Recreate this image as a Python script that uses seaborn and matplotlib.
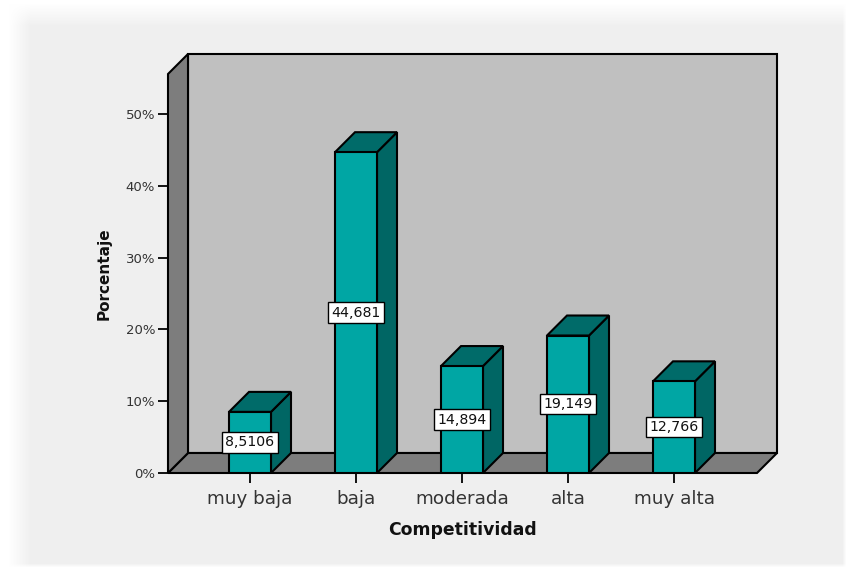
import numpy as np
import pandas as pd
import matplotlib
matplotlib.use("Agg")
import matplotlib.pyplot as plt
from matplotlib.patches import Polygon, Rectangle
import seaborn as sns

# Data: percentage of respondents per competitiveness level
categories = ["muy baja", "baja", "moderada", "alta", "muy alta"]
percentages = [8.5106, 44.681, 14.894, 19.149, 12.766]
y_ticks = [0, 10, 20, 30, 40, 50]
y_tick_labels = ["0%", "10%", "20%", "30%", "40%", "50%"]

df = pd.DataFrame({"Competitividad": categories, "Porcentaje": percentages})

W, H = 850, 575
sns.set_theme(style="white")
plt.rcParams["font.family"] = ["DejaVu Sans"]

fig = plt.figure(figsize=(W / 100, H / 100), dpi=100)
fig.patch.set_facecolor("white")

# soft-edged light grey panel behind the chart
xx, yy = np.meshgrid(np.arange(W), np.arange(H))
fx = np.clip((xx - 8) / 22.0, 0, 1) * np.clip((846 - xx) / 4.0, 0, 1)
fy = np.clip((yy - 3) / 22.0, 0, 1) * np.clip((567 - yy) / 4.0, 0, 1)
shade = 1.0 - fx * fy * (1.0 - 0.941)
panel = np.dstack([shade, shade, shade])
bg = fig.add_axes([0, 0, 1, 1], zorder=-1)
bg.imshow(panel, extent=(0, W, H, 0), aspect="auto", interpolation="nearest")
bg.set_axis_off()

# 3-D box geometry (in pixels of the figure)
px_left, px_right, px_floor, px_top = 168, 777, 473, 54
cat_px0, cat_step = 250, 106           # pixel of first category, spacing
pct_px = 7.18                          # pixels per percentage point
depth_px = 20

ax = fig.add_axes([px_left / W, (H - px_floor) / H,
                   (px_right - px_left) / W, (px_floor - px_top) / H],
                  zorder=1)
ax.set_facecolor("none")

x0 = (px_left - cat_px0) / cat_step
xr = (px_right - cat_px0) / cat_step
ytop = (px_floor - px_top) / pct_px
dx = depth_px / cat_step
dy = depth_px / pct_px

edge = dict(edgecolor="black", linewidth=1.5, joinstyle="miter")
wall_dark = "#7d7d7d"
wall_light = "#c0c0c0"

# back wall, floor and left wall
ax.add_patch(Rectangle((x0 + dx, dy), xr - x0 - dx, ytop - dy,
                       facecolor=wall_light, zorder=1, clip_on=False, **edge))
ax.add_patch(Polygon([(x0, 0), (xr - dx, 0), (xr, dy), (x0 + dx, dy)],
                     closed=True, facecolor=wall_dark, zorder=1.5,
                     clip_on=False, **edge))
ax.add_patch(Polygon([(x0, 0), (x0 + dx, dy), (x0 + dx, ytop), (x0, ytop - dy)],
                     closed=True, facecolor=wall_dark, zorder=1.6,
                     clip_on=False, **edge))
n_walls = len(ax.patches)

front = "#00a6a4"
side = "#006664"
top = "#006b69"

sns.barplot(data=df, x="Competitividad", y="Porcentaje", color=front,
            saturation=1, width=42 / cat_step, edgecolor="black",
            linewidth=1.5, ax=ax, zorder=3)
ax.set_xlim(x0, xr)
ax.set_ylim(0, ytop)

for bar, val in zip(list(ax.patches)[n_walls:], percentages):
    bx, bw, bh = bar.get_x(), bar.get_width(), bar.get_height()
    ax.add_patch(Polygon([(bx + bw, 0), (bx + bw + dx, dy),
                          (bx + bw + dx, bh + dy), (bx + bw, bh)],
                         closed=True, facecolor=side, zorder=2.9,
                         clip_on=False, **edge))
    ax.add_patch(Polygon([(bx, bh), (bx + dx, bh + dy),
                          (bx + bw + dx, bh + dy), (bx + bw, bh)],
                         closed=True, facecolor=top, zorder=2.9,
                         clip_on=False, **edge))
    ax.text(bx + bw / 2, bh / 2, f"{val:.5g}".replace(".", ","),
            ha="center", va="center", fontsize=10.2, color="#111111",
            zorder=5,
            bbox=dict(boxstyle="square,pad=0.22", facecolor="white",
                      edgecolor="black", linewidth=1.0))

for s in ax.spines.values():
    s.set_visible(False)

ax.set_yticks(y_ticks)
ax.set_yticklabels(y_tick_labels)
ax.set_xticks(range(len(categories)))
ax.set_xticklabels(categories)
ax.tick_params(axis="y", direction="out", length=7.2, width=1.3,
               color="black", pad=2, labelsize=9.5, labelcolor="#333333",
               left=True)
ax.tick_params(axis="x", direction="out", length=7.2, width=1.3,
               color="black", pad=5, labelsize=13.2, labelcolor="#333333",
               bottom=True)
ax.set_xlabel("")
ax.set_ylabel("")

fig.text(462 / W, 1 - 530 / H, "Competitividad", ha="center", va="center",
         fontsize=12.4, fontweight="bold", color="#111111")
fig.text(104 / W, 1 - 274 / H, "Porcentaje", ha="center", va="center",
         rotation=90, fontsize=11, fontweight="bold", color="#111111")

fig.savefig("out.png", dpi=100)
